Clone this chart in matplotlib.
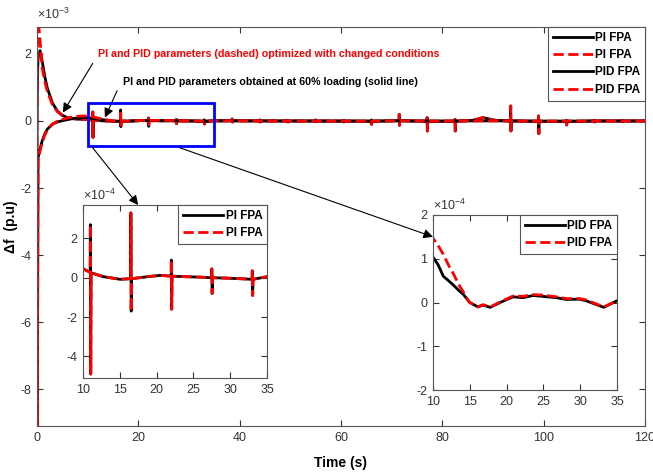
import matplotlib
matplotlib.use('Agg')
import matplotlib.pyplot as plt
from matplotlib.patches import Rectangle
from matplotlib.ticker import FuncFormatter, MultipleLocator

# fonts: closest installed match to the MATLAB Helvetica export
plt.rcParams['font.family'] = ['Liberation Sans', 'DejaVu Sans']
plt.rcParams['mathtext.default'] = 'regular'
plt.rcParams['axes.unicode_minus'] = False

# all deviations stored in units of 1e-4 p.u.
UNIT = 1e-4

# PI FPA, first 10 s (solid = 60% loading, dashed = re-optimized)
pi_start_t = [0, 0.1, 0.25, 0.6, 1, 1.5, 2, 3, 4, 5, 6, 7, 8, 9, 10]
pi_start_solid = [0, 15, 19.5, 21, 18, 13.5, 10, 5.5, 3.0, 1.7, 1.0, 0.7, 0.55, 0.5, 0.46]
pi_start_dashed = [0, 25, 30, 24, 16, 12, 9, 5, 2.8, 1.6, 1.0, 0.7, 0.55, 0.5, 0.46]

# PI FPA after 10 s (load-change spikes, same for both)
pi_tail_t = [10.98, 11.0, 11.05, 11.1, 12.8, 15.05,
             16.48, 16.5, 16.55, 16.6, 18.7, 20.5,
             21.98, 22.0, 22.05, 22.1, 24.1, 25.9,
             27.48, 27.5, 27.55, 27.6, 29.5, 31.3,
             32.98, 33.0, 33.05, 33.1, 35,
             38.45, 38.5, 38.55, 38.6,
             43.95, 44.0, 44.05, 44.1,
             49.45, 49.5, 49.55, 49.6,
             54.95, 55.0, 55.05, 55.1,
             60.45, 60.5, 60.55, 60.6,
             65.95, 66.0, 66.05, 66.1,
             71.45, 71.5, 71.55, 71.6,
             76.95, 77.0, 77.05, 77.1,
             82.45, 82.5, 82.55, 82.6,
             86, 88, 90.5,
             93.45, 93.5, 93.55, 93.6,
             98.95, 99.0, 99.05, 99.1,
             104.45, 104.5, 104.55, 104.6,
             109.95, 110.0, 110.05, 110.1,
             115.45, 115.5, 115.55, 115.6, 120]
pi_tail_val = [0.27, 2.7, -4.9, 0.25, 0.05, -0.08,
               -0.05, 3.3, -1.7, -0.05, 0.05, 0.12,
               0.08, 0.9, -1.6, 0.08, 0.05, 0.03,
               0.0, 0.45, -0.8, 0.0, -0.02, -0.05,
               -0.08, 0.35, -0.9, -0.08, 0.05,
               0.05, 0.6, -0.3, 0.05,
               0.0, 0.3, -0.3, 0.0,
               0.0, 0.2, -0.3, 0.0,
               0.0, 0.3, -0.2, 0.0,
               0.0, 0.2, -0.3, 0.0,
               -0.1, 0.3, -1.0, -0.1,
               0.1, 2.0, -1.3, 0.1,
               -0.1, 1.0, -3.0, -0.1,
               -0.1, 0.5, -3.0, -0.1,
               0.2, 1.0, 0.2,
               0.0, 4.5, -3.0, 0.0,
               -0.1, 1.5, -3.8, -0.1,
               -0.2, 0.2, -1.2, -0.2,
               0.0, 0.2, -0.3, 0.0,
               0.0, 0.2, -0.2, 0.0, 0.0]

# PID FPA
pid_t = [0, 0.05, 0.2, 0.5, 1, 1.5, 2, 3, 4, 5, 6, 7, 8, 9, 10,
         10.7, 11.4, 12.3, 12.7, 13.6, 14.1, 14.8, 15, 16.1, 16.8, 17.8, 19.1,
         20.9, 22.2, 23.6, 24.9, 26.8, 28.1, 29.9, 30.8, 33.2, 35,
         40, 50, 60, 70, 80, 90, 100, 110, 120]
pid_solid = [0, -95, -11, -9, -6, -4, -2.5, -1.0, -0.3, 0.1, 0.4, 0.7, 0.9, 1.0, 1.04,
             0.86, 0.6, 0.47, 0.41, 0.26, 0.19, 0.04, 0.0, -0.1, -0.06, -0.11, 0.0,
             0.13, 0.11, 0.16, 0.14, 0.11, 0.07, 0.075, 0.04, -0.11, 0.04,
             0.05, 0.0, -0.05, 0.02, 0.0, 0.03, -0.02, 0.0, 0.0]
pid_dashed = [0, -95, -12, -9.5, -6.5, -4.3, -2.8, -1.0, -0.1, 0.5, 0.9, 1.2, 1.4, 1.5, 1.47,
              1.3, 1.1, 0.79, 0.68, 0.38, 0.25, 0.04, 0.0, -0.1, -0.05, -0.1, 0.01,
              0.15, 0.14, 0.18, 0.17, 0.13, 0.09, 0.09, 0.06, -0.1, 0.04,
              0.05, 0.0, -0.05, 0.02, 0.0, 0.03, -0.02, 0.0, 0.0]

pi_t = pi_start_t + pi_tail_t
pi_solid = [v * UNIT for v in pi_start_solid + pi_tail_val]
pi_dashed = [v * UNIT for v in pi_start_dashed + pi_tail_val]
pid_solid = [v * UNIT for v in pid_solid]
pid_dashed = [v * UNIT for v in pid_dashed]

TICK_COLOR = '#333333'
FRAME_COLOR = '#555555'


def style_axes(ax, power):
    # MATLAB style: plain tick labels with a x10^n marker above the axes
    ax.yaxis.set_major_formatter(FuncFormatter(lambda v, pos: '%g' % round(v / 10.0**power, 6)))
    ax.text(0, 1.012, r'$\times10^{%d}$' % power, transform=ax.transAxes,
            fontsize=9, color=TICK_COLOR, ha='left', va='bottom')
    ax.tick_params(direction='in', top=True, right=True, length=4, width=0.8,
                   labelsize=9, colors=TICK_COLOR, pad=4)
    for sp in ax.spines.values():
        sp.set_color(FRAME_COLOR)
        sp.set_linewidth(0.8)


def add_legend(ax, labels):
    leg = ax.legend(labels, loc='upper right', borderaxespad=0, fancybox=False,
                    framealpha=1, edgecolor=FRAME_COLOR,
                    prop=dict(weight='bold', size=8.5), handlelength=3.4,
                    labelspacing=0.45, borderpad=0.4, handletextpad=0.2)
    leg.get_frame().set_linewidth(0.8)
    return leg


fig = plt.figure(figsize=(6.53, 4.72), dpi=100)

# main axes
ax = fig.add_axes([0.0567, 0.0975, 0.931, 0.845])
ax.plot(pi_t, pi_solid, '-', color='k', lw=2)
ax.plot(pi_t, pi_dashed, '--', color='r', lw=2)
ax.plot(pid_t, pid_solid, '-', color='k', lw=2)
ax.plot(pid_t, pid_dashed, '--', color='r', lw=2)
ax.set_xlim(0, 120)
ax.set_ylim(-9.1e-3, 2.8e-3)
ax.xaxis.set_major_locator(MultipleLocator(20))
ax.yaxis.set_major_locator(MultipleLocator(2e-3))
style_axes(ax, -3)
add_legend(ax, ['PI FPA', 'PI FPA', 'PID FPA', 'PID FPA'])
ax.set_xlabel('Time (s)', fontsize=10, fontweight='bold')
ax.xaxis.set_label_coords(0.5, -0.075)
ax.set_ylabel('\u0394f  (p.u)', fontsize=10, fontweight='bold')
ax.yaxis.set_label_coords(-0.031, 0.5)

# zoom window
ax.add_patch(Rectangle((10, -0.75e-3), 25, 1.3e-3, fill=False, ec='#0000ff', lw=2, zorder=5))

arrow = dict(arrowstyle='-|>', color='k', lw=0.8, mutation_scale=14, shrinkA=0, shrinkB=0)
ax.text(12.0, 1.985e-3, 'PI and PID parameters (dashed) optimized with changed conditions',
        color='r', fontsize=7.7, fontweight='bold', va='center')
ax.annotate('', xy=(5.1, 0.25e-3), xytext=(11.0, 1.72e-3), arrowprops=arrow)
ax.text(17.0, 1.15e-3, 'PI and PID parameters obtained at 60% loading (solid line)',
        color='k', fontsize=7.7, fontweight='bold', va='center')
ax.annotate('', xy=(13.4, 0.1e-3), xytext=(15.8, 0.9e-3), arrowprops=arrow)

# inset: PI
ax1 = fig.add_axes([0.1271, 0.1992, 0.2818, 0.3665])
ax1.plot(pi_t, pi_solid, '-', color='k', lw=2)
ax1.plot(pi_t, pi_dashed, '--', color='r', lw=2)
ax1.set_xlim(10, 35)
ax1.set_ylim(-5.1e-4, 3.7e-4)
ax1.xaxis.set_major_locator(MultipleLocator(5))
ax1.yaxis.set_major_locator(MultipleLocator(2e-4))
style_axes(ax1, -4)
add_legend(ax1, ['PI FPA', 'PI FPA'])
ax1.annotate('', xy=(17.5, 3.7e-4), xycoords='data', xytext=(11.0, -0.8e-3),
             textcoords=ax.transData, arrowprops=arrow, annotation_clip=False)

# inset: PID
ax2 = fig.add_axes([0.6631, 0.1737, 0.2818, 0.3708])
ax2.plot(pid_t, pid_solid, '-', color='k', lw=2)
ax2.plot(pid_t, pid_dashed, '--', color='r', lw=2)
ax2.set_xlim(10, 35)
ax2.set_ylim(-2e-4, 2e-4)
ax2.xaxis.set_major_locator(MultipleLocator(5))
ax2.yaxis.set_major_locator(MultipleLocator(1e-4))
style_axes(ax2, -4)
add_legend(ax2, ['PID FPA', 'PID FPA'])
ax2.annotate('', xy=(10, 1.5e-4), xycoords='data', xytext=(28.2, -0.8e-3),
             textcoords=ax.transData, arrowprops=arrow, annotation_clip=False)

fig.savefig('out.png', dpi=100)
